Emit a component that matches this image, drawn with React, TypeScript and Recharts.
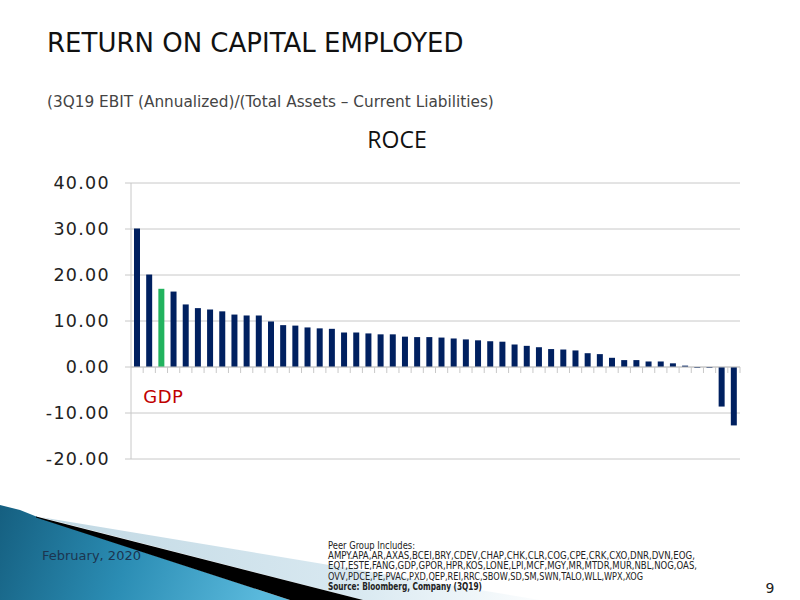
import React from 'react';
import { BarChart, Bar, XAxis, YAxis, CartesianGrid, Cell, ReferenceLine, LabelList } from 'recharts';

const companies = [
  'P01', 'P02', 'GDP', 'P04', 'P05', 'P06', 'P07', 'P08', 'P09', 'P10',
  'P11', 'P12', 'P13', 'P14', 'P15', 'P16', 'P17', 'P18', 'P19', 'P20',
  'P21', 'P22', 'P23', 'P24', 'P25', 'P26', 'P27', 'P28', 'P29', 'P30',
  'P31', 'P32', 'P33', 'P34', 'P35', 'P36', 'P37', 'P38', 'P39', 'P40',
  'P41', 'P42', 'P43', 'P44', 'P45', 'P46', 'P47', 'P48', 'P49', 'P50',
];

const roce = [
  30.1, 20.1, 17.0, 16.4, 13.6, 12.8, 12.5, 12.1, 11.4, 11.2,
  11.2, 9.9, 9.1, 9.0, 8.6, 8.4, 8.3, 7.5, 7.5, 7.3,
  7.1, 7.1, 6.6, 6.5, 6.5, 6.4, 6.2, 6.0, 5.8, 5.6,
  5.5, 4.9, 4.6, 4.3, 3.9, 3.8, 3.6, 3.0, 2.8, 2.0,
  1.5, 1.5, 1.2, 1.2, 0.8, 0.3, -0.2, -0.2, -8.6, -12.7,
];

const highlight = 'GDP';
const yTicks = [-20, -10, 0, 10, 20, 30, 40];

const peerLines = [
  'AMPY.APA,AR,AXAS,BCEI,BRY,CDEV,CHAP,CHK,CLR,COG,CPE,CRK,CXO,DNR,DVN,EOG,',
  'EQT,ESTE,FANG,GDP,GPOR,HPR,KOS,LONE,LPI,MCF,MGY,MR,MTDR,MUR,NBL,NOG,OAS,',
  'OVV,PDCE,PE,PVAC,PXD,QEP,REI,RRC,SBOW,SD,SM,SWN,TALO,WLL,WPX,XOG',
];

const data = companies.map((name, i) => ({
  name,
  value: roce[i],
  label: name === highlight ? name : '',
}));

const NAVY = '#002060';
const GREEN = '#22b35e';
const GRID = '#c8c8c8';

const ZeroLine = (props: any) => {
  const { x1, x2, y1 } = props;
  const n = data.length;
  const step = (x2 - x1) / n;
  const ticks = [];
  for (let i = 1; i <= n; i++) {
    const tx = x1 + i * step;
    ticks.push(<line key={i} x1={tx} x2={tx} y1={y1} y2={y1 + 6} stroke={GRID} strokeWidth={1} />);
  }
  return (
    <g>
      <line x1={x1} x2={x2} y1={y1} y2={y1} stroke={GRID} strokeWidth={1} />
      {ticks}
    </g>
  );
};

const GdpLabel = (props: any) => {
  const { x, y, width, height, value } = props;
  if (!value) return null;
  return (
    <text
      x={x + width / 2 + 2}
      y={y + height + 36}
      textAnchor="middle"
      fill="#c00000"
      fontFamily="'DejaVu Sans', sans-serif"
      fontSize={18}
      letterSpacing={0.5}
    >
      {value}
    </text>
  );
};

export default function App() {
  const font = "'DejaVu Sans', sans-serif";
  return (
    <div style={{ position: 'fixed', left: 0, top: 0, width: 800, height: 600, background: '#fff', overflow: 'hidden' }}>
      <svg width={800} height={600} style={{ position: 'absolute', left: 0, top: 0 }}>
        <defs>
          <linearGradient id="blueG" gradientUnits="userSpaceOnUse" x1="0" y1="505" x2="260" y2="600">
            <stop offset="0%" stopColor="#155f80" />
            <stop offset="50%" stopColor="#2b8db4" />
            <stop offset="100%" stopColor="#5ab9dc" />
          </linearGradient>
          <linearGradient id="paleG" gradientUnits="userSpaceOnUse" x1="60" y1="0" x2="560" y2="0">
            <stop offset="0%" stopColor="#c2d9e4" />
            <stop offset="60%" stopColor="#d9e9f1" />
            <stop offset="100%" stopColor="#ffffff" />
          </linearGradient>
        </defs>
        <polygon points="40,517 540,600 363,600" fill="url(#paleG)" />
        <polygon points="0,505 20,510 40,518 290,600 0,600" fill="url(#blueG)" />
        <polygon points="36,516.5 363,600 290,600 36,517.5" fill="#000" />
        <text x={47} y={52} fontFamily={font} fontSize={26} fill="#111">RETURN ON CAPITAL EMPLOYED</text>
        <text x={47} y={107} fontFamily={font} fontSize={15.3} fill="#444">(3Q19 EBIT (Annualized)/(Total Assets – Current Liabilities)</text>
        <text x={397} y={148} textAnchor="middle" fontFamily="'Open Sans', sans-serif" fontSize={23} fill="#111">ROCE</text>
        <text x={42} y={560} fontFamily={font} fontSize={13} fill="#1c3550">February, 2020</text>
        <g fontFamily="'Liberation Sans Narrow', 'DejaVu Sans Condensed', 'Liberation Sans', sans-serif" fontSize={10} fill="#222">
          <text x={328} y={548.5} textLength={87} lengthAdjust="spacingAndGlyphs">Peer Group Includes:</text>
          <text x={328} y={559} textLength={367} lengthAdjust="spacingAndGlyphs">{peerLines[0]}</text>
          <text x={328} y={569.3} textLength={369} lengthAdjust="spacingAndGlyphs">{peerLines[1]}</text>
          <text x={328} y={579.8} textLength={315} lengthAdjust="spacingAndGlyphs">{peerLines[2]}</text>
          <text x={328} y={590.2} textLength={154} lengthAdjust="spacingAndGlyphs" fontWeight="bold">Source: Bloomberg, Company  (3Q19)</text>
        </g>
        <text x={770} y={593} textAnchor="middle" fontFamily={font} fontSize={14} fill="#222">9</text>
      </svg>
      <div style={{ position: 'absolute', left: 0, top: 0 }}>
        <BarChart
          width={800}
          height={600}
          data={data}
          margin={{ top: 183, right: 60, bottom: 141, left: 31 }}
          barSize={6}
        >
          <CartesianGrid vertical={false} stroke={GRID} />
          <XAxis dataKey="name" hide />
          <YAxis
            width={100}
            domain={[-20, 40]}
            ticks={yTicks}
            interval={0}
            tickFormatter={(v: number) => v.toFixed(2)}
            axisLine={{ stroke: GRID }}
            tickLine={{ stroke: GRID }}
            tickSize={6}
            tickMargin={15}
            tick={{ fill: '#222', fontSize: 17.5, fontFamily: font, letterSpacing: 1.3 }}
          />
          <ReferenceLine y={0} shape={ZeroLine} />
          <Bar dataKey="value" isAnimationActive={false}>
            {data.map((d) => (
              <Cell key={d.name} fill={d.name === highlight ? GREEN : NAVY} />
            ))}
            <LabelList dataKey="label" content={GdpLabel} />
          </Bar>
        </BarChart>
      </div>
    </div>
  );
}
